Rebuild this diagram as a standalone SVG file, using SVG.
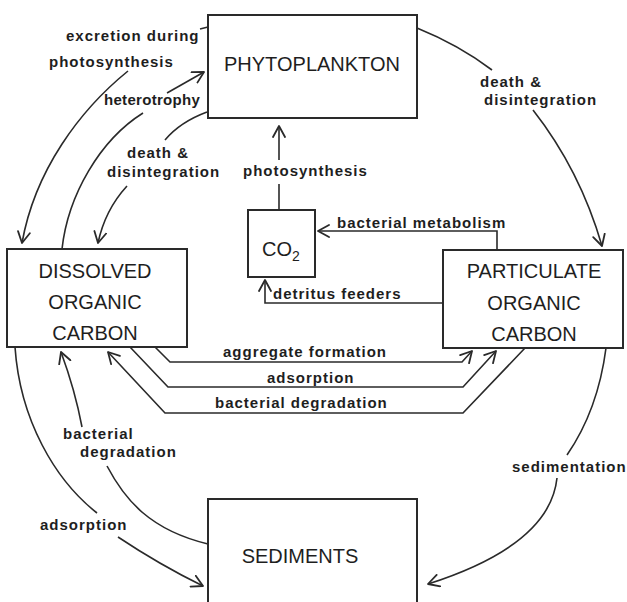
<svg xmlns="http://www.w3.org/2000/svg" width="627" height="602" viewBox="0 0 627 602">
<defs>
<marker id="ah" viewBox="0 0 14 14" refX="12" refY="7" markerWidth="14" markerHeight="14" markerUnits="userSpaceOnUse" orient="auto">
<path d="M1,1 L12,7 L1,13" fill="none" stroke="#2a2a2a" stroke-width="1.8" stroke-linecap="round" stroke-linejoin="round"/>
</marker>
<style>
.box{fill:none;stroke:#2a2a2a;stroke-width:2}
.bt{font-family:"Liberation Sans",Arial,sans-serif;font-size:20px;fill:#1e1e1e;text-anchor:middle}
.lb{font-family:"Liberation Sans",Arial,sans-serif;font-size:15px;font-weight:bold;fill:#1e1e1e;letter-spacing:1px}
.c{fill:none;stroke:#2a2a2a;stroke-width:1.6}
.a{marker-end:url(#ah)}
</style>
</defs>
<rect width="627" height="602" fill="#ffffff"/>
<g id="phytoplankton">
<rect class="box" x="208" y="15" width="209" height="103"/>
<text class="bt" x="312" y="71">PHYTOPLANKTON</text>
</g>
<g id="co2">
<rect class="box" x="248" y="210" width="67" height="67"/>
<text class="bt" x="262" y="256" style="text-anchor:start">CO<tspan font-size="14" dy="5">2</tspan></text>
</g>
<g id="doc">
<rect class="box" x="7" y="249" width="180" height="98"/>
<text class="bt" x="95" y="278">DISSOLVED</text>
<text class="bt" x="95" y="309">ORGANIC</text>
<text class="bt" x="95" y="340">CARBON</text>
</g>
<g id="poc">
<rect class="box" x="443" y="250" width="180" height="98"/>
<text class="bt" x="534" y="278">PARTICULATE</text>
<text class="bt" x="534" y="310">ORGANIC</text>
<text class="bt" x="534" y="341">CARBON</text>
</g>
<g id="sediments">
<rect class="box" x="208" y="499" width="209" height="120"/>
<text class="bt" x="300" y="563">SEDIMENTS</text>
</g>
<g id="connectors">
<path class="c" d="M200,29 L208,27"/>
<path class="c a" d="M128,71 C80,110 35,170 22,243"/>
<path class="c" d="M62,249 C68,195 100,140 143,113"/>
<path class="c a" d="M167,93 L204,72"/>
<path class="c" d="M207,112 Q180,122 165,140"/>
<path class="c a" d="M127,186 Q105,210 98,243"/>
<path class="c" d="M279,210 V184"/>
<path class="c a" d="M279,160 V126"/>
<path class="c" d="M417,28 Q459,45 492,70"/>
<path class="c a" d="M533,110 Q580,170 602,246"/>
<path class="c a" d="M497,250 V231 H318"/>
<path class="c a" d="M443,303 H265 V280"/>
<path class="c a" d="M155,347 L170,362 H462 L472,351"/>
<path class="c a" d="M130,347 L168,387 H463 L496,351"/>
<path class="c a" d="M525,348 L463,413 H165 L108,352"/>
<path class="c" d="M606,348 Q598,410 567,455"/>
<path class="c a" d="M557,478 Q550,545 428,584"/>
<path class="c" d="M15,347 C20,420 55,480 97,513"/>
<path class="c a" d="M118,537 Q160,565 203,586"/>
<path class="c" d="M208,544 C150,530 125,500 107,466"/>
<path class="c a" d="M82,427 Q75,390 61,352"/>
</g>
<g id="labels">
<text class="lb" x="66" y="41">excretion during</text>
<text class="lb" x="49" y="67">photosynthesis</text>
<text class="lb" x="104" y="105" style="letter-spacing:0.3px">heterotrophy</text>
<text class="lb" x="127" y="158">death &amp;</text>
<text class="lb" x="107" y="177">disintegration</text>
<text class="lb" x="243" y="176">photosynthesis</text>
<text class="lb" x="480" y="87">death &amp;</text>
<text class="lb" x="484" y="105">disintegration</text>
<text class="lb" x="337" y="228">bacterial metabolism</text>
<text class="lb" x="273" y="299">detritus feeders</text>
<text class="lb" x="223" y="357">aggregate formation</text>
<text class="lb" x="267" y="383">adsorption</text>
<text class="lb" x="215" y="408">bacterial degradation</text>
<text class="lb" x="63" y="439">bacterial</text>
<text class="lb" x="80" y="457">degradation</text>
<text class="lb" x="40" y="530">adsorption</text>
<text class="lb" x="512" y="472">sedimentation</text>
</g>
</svg>
